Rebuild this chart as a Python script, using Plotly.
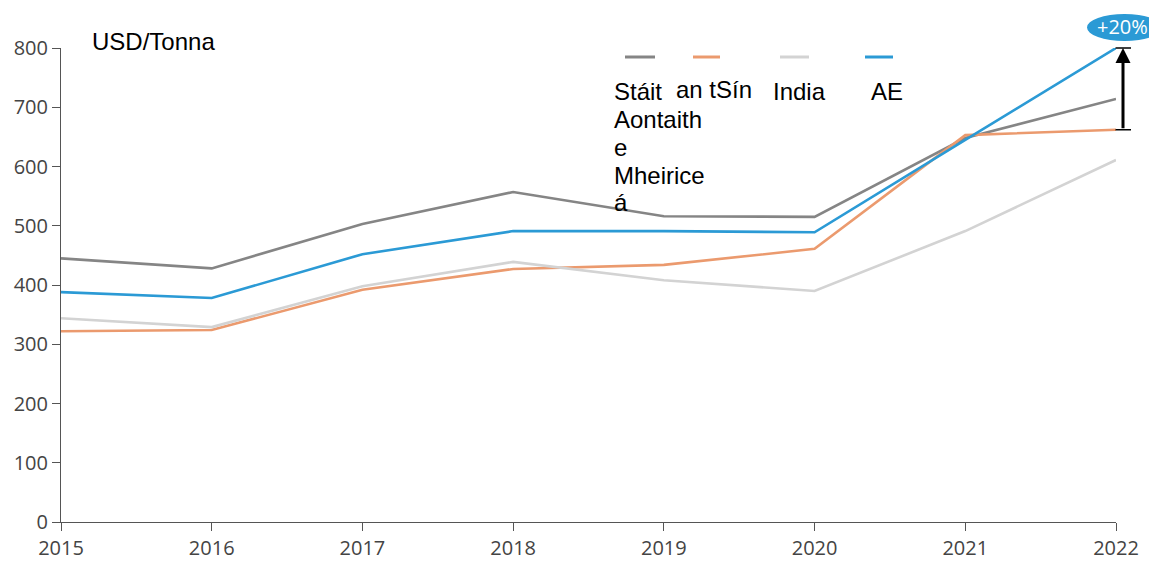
import plotly.graph_objects as go

years = [2015, 2016, 2017, 2018, 2019, 2020, 2021, 2022]
us = [445, 428, 503, 557, 516, 515, 648, 714]
china = [322, 324, 392, 427, 434, 461, 653, 662]
india = [344, 329, 398, 439, 408, 390, 491, 611]
eu = [388, 378, 452, 491, 491, 489, 645, 800]

series_names = ["Stáit<br>Aontaith<br>e<br>Mheirice<br>á", "an tSín", "India", "AE"]
series_vals = [us, china, india, eu]
colors = ["#858585", "#EB9A6E", "#D3D3D3", "#2B9AD5"]
unit_label = "USD/Tonna"
change_label = "+20%"
y_ticks = [0, 100, 200, 300, 400, 500, 600, 700, 800]

# page offset (body margin) and figure size
OFF = 8
W, H = 1157 - OFF, 563 - OFF
PL, PT, PW, PH = 61, 48, 1055, 474   # plot box in screen pixels
ML, MT = PL - OFF, PT - OFF
MR = W - ML - PW
MB = H - MT - PH


def px(x):
    return (x - PL) / PW


def py(y):
    return (PT + PH - y) / PH


fig = go.Figure()
for vals, col in zip(series_vals, colors):
    fig.add_trace(go.Scatter(x=years, y=vals, mode="lines",
                             line=dict(color=col, width=2.6),
                             cliponaxis=False, showlegend=False,
                             hoverinfo="skip"))

shapes = []
annotations = []
label_font = dict(family="Liberation Sans, Arial", size=24, color="#000")

# manual legend
leg_line_x = [(625, 655), (693, 720), (780, 809), (865, 893)]
leg_text_x = [612, 674, 771, 869]
leg_text_y = [92, 89, 92, 92]
line_gap = 27.7
for (x0, x1), tx, ty, name, col in zip(leg_line_x, leg_text_x, leg_text_y, series_names, colors):
    shapes.append(dict(type="line", xref="paper", yref="paper",
                       x0=px(x0), x1=px(x1), y0=py(57), y1=py(57),
                       line=dict(color=col, width=3)))
    for i, part in enumerate(name.split("<br>")):
        annotations.append(dict(xref="paper", yref="paper", x=px(tx),
                                y=py(ty + i * line_gap),
                                xanchor="left", yanchor="middle", align="left",
                                text=part, showarrow=False, font=label_font))

# unit label
annotations.append(dict(xref="paper", yref="paper", x=px(90), y=py(41),
                        xanchor="left", yanchor="middle", text=unit_label,
                        showarrow=False, font=label_font))

# change arrow
annotations.append(dict(xref="x", yref="y", x=years[-1], y=eu[-1],
                        axref="x", ayref="y", ax=years[-1], ay=china[-1],
                        xshift=7, text="", showarrow=True, arrowhead=2,
                        arrowsize=1, arrowwidth=3, arrowcolor="#000", standoff=0))
for v in (eu[-1], china[-1]):
    annotations.append(dict(xref="x", yref="y", x=years[-1], y=v,
                            xshift=15, ax=-17, ay=0, text="", showarrow=True,
                            arrowhead=0, arrowwidth=1.5, arrowcolor="#000", standoff=0))

# +20% ellipse
shapes.append(dict(type="circle", xref="paper", yref="paper",
                   x0=px(1087), x1=px(1162), y0=py(41), y1=py(14),
                   fillcolor="#2B9AD5", line=dict(width=0), layer="above"))
annotations.append(dict(xref="paper", yref="paper", x=px(1122), y=py(27),
                        xanchor="center", yanchor="middle", text=change_label,
                        showarrow=False,
                        font=dict(family="Open Sans", size=20, color="#fff")))

axis_common = dict(showline=True, linecolor="#555", linewidth=1, ticks="outside",
                   ticklen=8, tickcolor="#555", showgrid=False, zeroline=False,
                   tickfont=dict(family="Open Sans", size=20, color="#444"))

fig.update_layout(
    width=W, height=H,
    margin=dict(l=ML, r=MR, t=MT, b=MB, autoexpand=False),
    plot_bgcolor="white", paper_bgcolor="white",
    xaxis=dict(range=[years[0], years[-1]], tickvals=years, tickformat="d", **axis_common),
    yaxis=dict(range=[0, 800], tickvals=y_ticks, **axis_common),
    shapes=shapes, annotations=annotations,
)

fig.write_html("out.html")
